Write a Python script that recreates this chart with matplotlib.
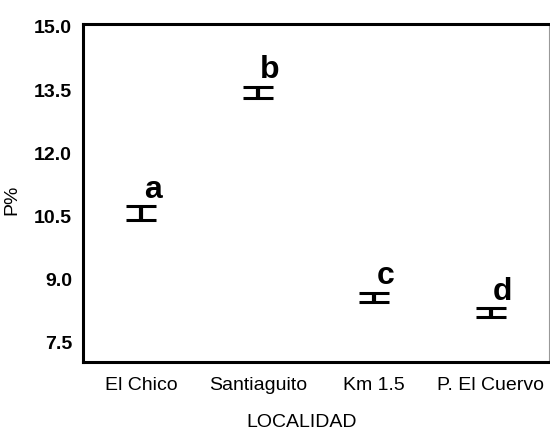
import matplotlib
matplotlib.use("Agg")
import matplotlib.pyplot as plt

# data
localidades = ["El Chico", "Santiaguito", "Km 1.5", "P. El Cuervo"]
medias = [10.58, 13.45, 8.58, 8.22]
errores = [0.165, 0.135, 0.11, 0.105]
letras = ["a", "b", "c", "d"]
yticks = [7.5, 9.0, 10.5, 12.0, 13.5, 15.0]

plt.rcParams["font.family"] = ["Liberation Sans", "DejaVu Sans"]

fig = plt.figure(figsize=(5.5, 4.36), dpi=100)
ax = fig.add_axes([0.151, 0.170, 0.847, 0.775])

x = list(range(len(localidades)))
ax.errorbar(x, medias, yerr=errores, fmt="none", ecolor="black",
            elinewidth=3, capsize=10.5, capthick=2.2)

for xi, m, e, l in zip(x, medias, errores, letras):
    ax.text(xi + 0.1, m + e + 0.2, l, fontsize=23, fontweight="bold",
            ha="center", va="baseline")

ax.set_xlim(-0.5, 3.5)
ax.set_ylim(7.05, 15.07)
ax.set_xticks(x)
ax.set_xticklabels(localidades, fontsize=14)
ax.set_yticks(yticks)
ax.set_yticklabels(["%.1f" % v for v in yticks], fontsize=14, fontweight="bold")
ax.tick_params(axis="both", length=0)
ax.tick_params(axis="y", pad=8)
ax.tick_params(axis="x", pad=11)

for s in ["left", "bottom", "top"]:
    ax.spines[s].set_linewidth(2.2)
ax.spines["right"].set_linewidth(0.8)
ax.spines["right"].set_color("#999999")

ax.set_xlabel("LOCALIDAD", fontsize=14)
ax.xaxis.set_label_coords(0.47, -0.155)
ax.set_ylabel("P%", fontsize=14)
ax.yaxis.set_label_coords(-0.135, 0.48)

fig.savefig("out.png", dpi=100)
